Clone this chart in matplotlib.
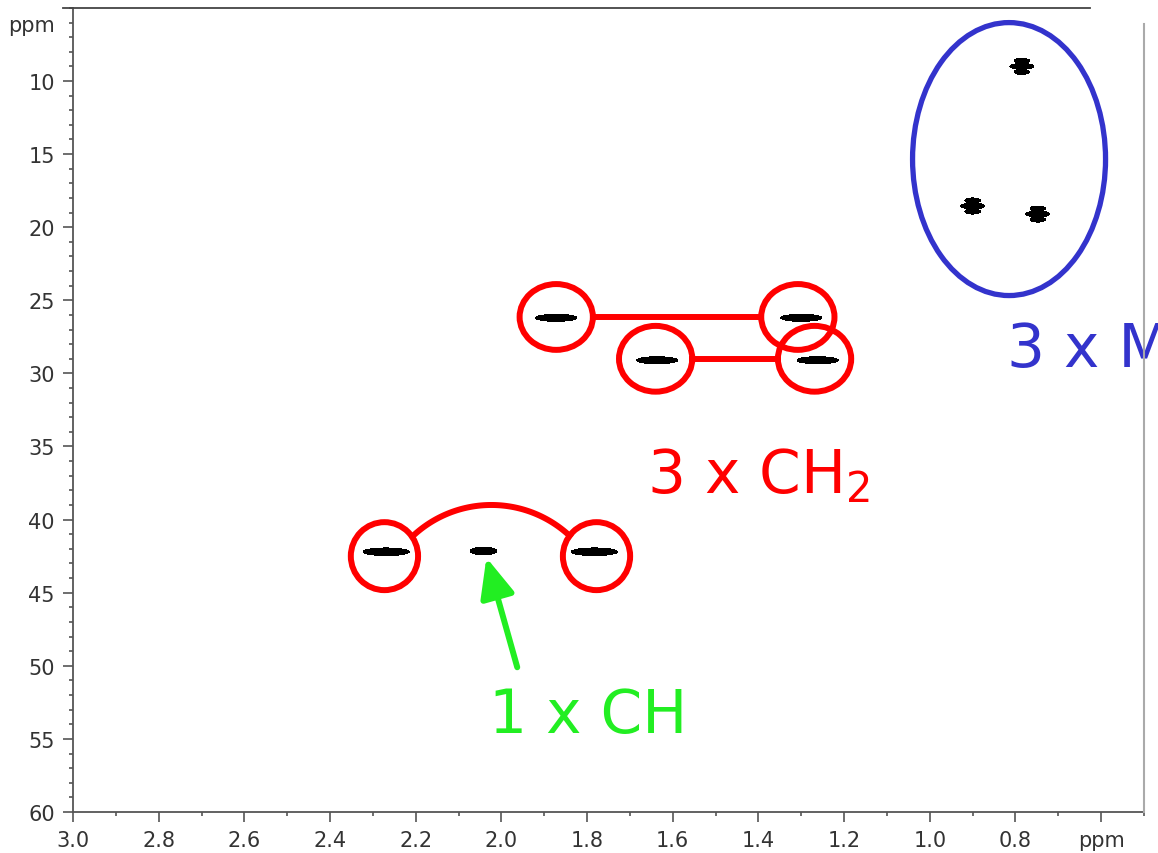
import numpy as np
import matplotlib
matplotlib.use("Agg")
import matplotlib.pyplot as plt
from matplotlib.patches import Ellipse

# 1H (x) / 13C (y) shifts of the cross peaks, ppm
ch2_x = [1.872, 1.300, 1.636, 1.262]
ch2_y = [26.2, 26.2, 29.1, 29.1]
ch_x = [2.269, 2.042, 1.783]
ch_y = [42.2, 42.15, 42.2]
me_x = [0.785, 0.900, 0.748]
me_y = [9.0, 18.55, 19.1]

# axis ticks
x_major = [3.0, 2.8, 2.6, 2.4, 2.2, 2.0, 1.8, 1.6, 1.4, 1.2, 1.0, 0.8, 0.6]
x_labels = ["3.0", "2.8", "2.6", "2.4", "2.2", "2.0", "1.8", "1.6", "1.4",
            "1.2", "1.0", "0.8", "ppm"]
y_major = [6, 10, 15, 20, 25, 30, 35, 40, 45, 50, 55, 60]
y_labels = ["ppm", "10", "15", "20", "25", "30", "35", "40", "45", "50", "55", "60"]

RED = "#ff0000"
GREEN = "#22ee22"
BLUE = "#3333cc"
AXC = "#555555"


def draw_blob(ax, x0, y0, hx, hy):
    # one filled contour of a 2D peak, cut at 1/e
    gx = np.linspace(x0 - 0.07, x0 + 0.07, 160)
    gy = np.linspace(y0 - 0.8, y0 + 0.8, 120)
    X, Y = np.meshgrid(gx, gy)
    Z = np.exp(-(((X - x0) / hx) ** 2 + ((Y - y0) / hy) ** 2))
    ax.contourf(X, Y, Z, levels=[np.exp(-1), 10], colors="black", zorder=3)


fig = plt.figure(figsize=(11.58, 8.54), dpi=100)
ax = fig.add_axes([0.06304, 0.04801, 0.92487, 0.94157])
ax.set_xlim(3.0, 0.5)
ax.set_ylim(60, 5)

# peaks
for x, y in zip(ch2_x, ch2_y):
    draw_blob(ax, x, y, 0.048, 0.24)
for i, (x, y) in enumerate(zip(ch_x, ch_y)):
    hw = 0.031 if i == 1 else 0.054
    draw_blob(ax, x, y, hw, 0.26)
for x, y in zip(me_x, me_y):
    # methyl multiplet: narrow / wide / narrow stacked lobes
    draw_blob(ax, x, y - 0.38, 0.018, 0.17)
    draw_blob(ax, x, y, 0.028, 0.2)
    draw_blob(ax, x, y + 0.38, 0.018, 0.17)

# red circles round the CH2 and CH peaks
cw, chh = 0.171, 4.5
for x, y in zip([1.872, 1.308, 1.640, 1.269], [26.14, 26.14, 29.0, 29.0]):
    ax.add_patch(Ellipse((x, y), cw, chh, fill=False, ec=RED, lw=4.3, zorder=4))
ax.plot([1.872 - cw / 2, 1.308 + cw / 2], [26.14, 26.14], color=RED, lw=4.3, zorder=4)
ax.plot([1.640 - cw / 2, 1.269 + cw / 2], [29.0, 29.0], color=RED, lw=4.3, zorder=4)

for x in [2.273, 1.778]:
    ax.add_patch(Ellipse((x, 42.5), 0.157, 4.65, fill=False, ec=RED, lw=4.3, zorder=4))
t = np.radians(np.linspace(45.6, 134.7, 100))
ax.plot(2.0234 - 0.268 * np.cos(t), 46.85 - 7.85 * np.sin(t), color=RED, lw=4.3,
        solid_capstyle="butt", zorder=4)

# blue ellipse round the methyls
ax.add_patch(Ellipse((0.815, 15.34), 0.4505, 18.67, fill=False, ec=BLUE, lw=3.8, zorder=4))

# green arrow to the CH peak
ax.annotate("", xy=(2.035, 42.6), xytext=(1.963, 50.1),
            arrowprops=dict(arrowstyle="-|>,head_length=2.4,head_width=1.05",
                            color=GREEN, lw=4.3, shrinkA=0, shrinkB=0), zorder=4)

# labels (the methyl label runs off the right edge, as in the original)
ax.text(1.659, 38.1, r"3 x CH$_2$", color=RED, fontsize=43, va="baseline", zorder=4)
ax.text(2.028, 54.5, "1 x CH", color=GREEN, fontsize=43, va="baseline", zorder=4)
ax.text(0.820, 29.5, "3 x Me", color=BLUE, fontsize=43, va="baseline",
        clip_on=False, zorder=2)

# axes styling
for s in ["top", "right"]:
    ax.spines[s].set_visible(False)
for s in ["left", "bottom"]:
    ax.spines[s].set_color(AXC)
    ax.spines[s].set_linewidth(1.3)

ax.set_xticks(x_major)
ax.set_xticklabels(x_labels)
ax.set_xticks(np.arange(0.5, 3.01, 0.1), minor=True)
ax.set_yticks(y_major)
ax.set_yticklabels(y_labels)
ax.set_yticks(np.arange(5, 61, 1), minor=True)
ax.tick_params(which="major", length=7, width=1.2, color=AXC, labelsize=15,
               labelcolor="#333333", pad=6)
ax.tick_params(which="minor", length=3, width=1.2, color=AXC)
ax.yaxis.get_major_ticks()[0].tick1line.set_markersize(3)

ax.plot([-0.009, 0.9496], [1, 1], transform=ax.transAxes, color="#444444",
        lw=1.3, clip_on=False, zorder=5)
ax.plot([1, 1], [0, 0.98], transform=ax.transAxes, color="#aaaaaa",
        lw=1.5, clip_on=False, zorder=5)

fig.savefig("out.png", dpi=100)
